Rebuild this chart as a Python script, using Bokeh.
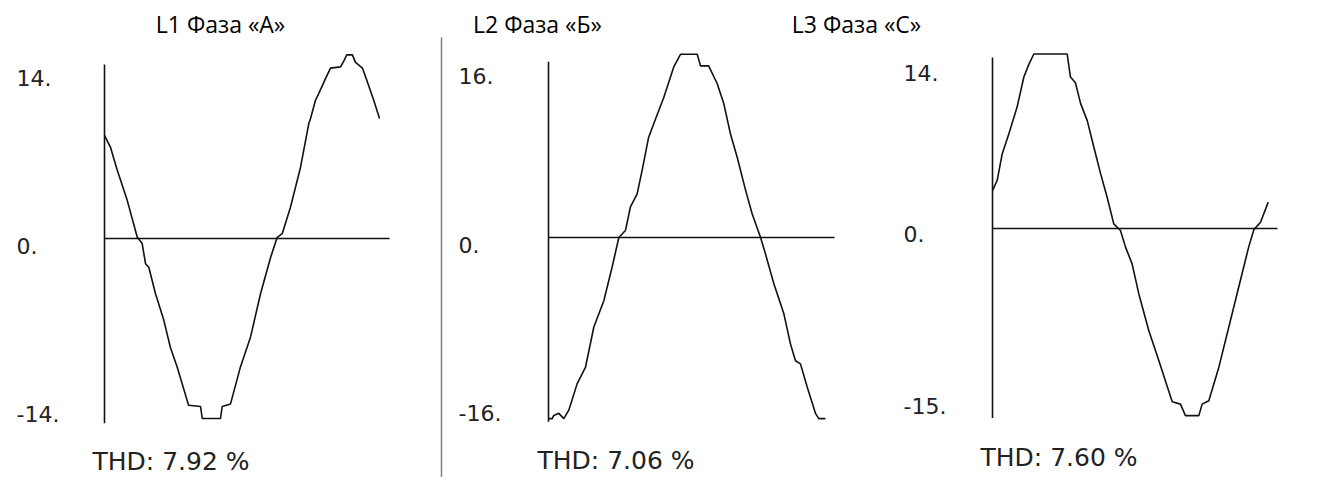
from bokeh.plotting import figure
from bokeh.models import Range1d, Label
from bokeh.core.properties import value
from bokeh.embed import file_html
from bokeh.resources import INLINE

# ---------------- data ----------------
titles = ["L1 Фаза «А»", "L2 Фаза «Б»", "L3 Фаза «С»"]
thd_texts = ["THD: 7.92 %", "THD: 7.06 %", "THD: 7.60 %"]

ticks_1 = [14, 0, -14]
tick_labels_1 = ["14.", "0.", "-14."]
ticks_2 = [16, 0, -16]
tick_labels_2 = ["16.", "0.", "-16."]
ticks_3 = [14, 0, -15]
tick_labels_3 = ["14.", "0.", "-15."]

sweep_ms = [0, 20]                 # time base of each trace (ms)
axis_extent_1 = [-15.4, 14.5]      # vertical axis extent (A)
axis_extent_2 = [-17.5, 16.7]
axis_extent_3 = [-16.5, 14.9]

t_1 = [0, 0.42, 0.89, 1.59, 2.3, 2.64, 2.88, 3.11, 3.58, 4.16, 4.63, 5.1, 5.9,
       6.74, 6.86, 8.14, 8.26, 8.84, 9.54, 10.25, 10.95, 11.65, 12.12, 12.47,
       13.05, 13.75, 14.34, 14.46, 14.8, 15.04, 15.5, 15.86, 16.56, 16.8, 17.0,
       17.4, 17.6, 18.1, 18.4, 18.9, 19.3]
i_1 = [8.6, 7.6, 5.7, 3.2, 0.1, -0.4, -2.1, -2.4, -4.6, -6.8, -9.1, -10.7, -13.9,
       -14.0, -15.0, -15.0, -14.0, -13.8, -10.7, -8.2, -4.6, -1.6, 0.1, 0.4,
       2.6, 5.9, 9.6, 10.0, 11.5, 12.1, 13.3, 14.2, 14.3, 14.8, 15.3,
       15.3, 14.7, 14.2, 13.2, 11.5, 10.0]

t_2 = [0.02, 0.26, 0.37, 0.72, 1.07, 1.42, 2.0, 2.59, 3.17, 3.87, 4.45, 4.92,
       5.38, 5.73, 6.2, 6.55, 7.0, 7.36, 8.06, 8.76, 9.23, 10.4, 10.63, 11.2,
       11.8, 12.26, 12.73, 13.2, 13.78, 14.24, 14.83, 15.17, 15.76, 16.46,
       16.92, 17.27, 17.62, 18.09, 18.67, 18.9, 19.37]
i_2 = [-17.2, -17.2, -16.9, -16.7, -17.2, -16.4, -13.9, -12.3, -8.5, -6.0, -2.8, 0.0,
       0.66, 2.9, 4.15, 6.4, 9.5, 10.8, 13.3, 16.2, 17.4, 17.4, 16.3, 16.3,
       14.6, 12.7, 9.8, 7.6, 4.5, 2.25, 0.0, -1.55, -4.4, -7.25,
       -10.1, -11.7, -12.0, -14.2, -16.7, -17.2, -17.2]

t_3 = [0, 0.33, 0.68, 1.15, 1.73, 2.2, 2.55, 2.9, 5.24, 5.47, 5.82, 6.18, 6.65,
       7.11, 7.58, 8.05, 8.51, 8.98, 9.33, 9.8, 10.27, 10.97, 11.67, 12.61,
       13.19, 13.54, 14.48, 14.71, 15.18, 15.88, 16.58, 17.28, 17.98, 18.34,
       18.81, 19.35]
i_3 = [3.3, 4.2, 6.5, 8.25, 10.6, 13.2, 14.3, 15.2, 15.2, 13.2, 12.7, 10.9, 9.4,
       7.1, 4.8, 2.7, 0.4, -0.17, -1.6, -3.1, -5.7, -8.9, -11.5, -15.1,
       -15.3, -16.3, -16.3, -15.3, -15.0, -12.1, -8.6, -5.1, -1.6, -0.1,
       0.55, 2.3]

# ---------------- layout (page pixels) ----------------
W, H, M = 1335, 477, 0
panels = [
    dict(ox=104, oy=238, sx=14.25, sy=12.0, tick_dx=-88, tick_dy=7,
         title_xy=(220, 23), thd_xy=(92, 461),
         t=t_1, i=i_1, ticks=ticks_1, labels=tick_labels_1, ext=axis_extent_1),
    dict(ox=548, oy=237, sx=14.3, sy=10.53, tick_dx=-90, tick_dy=7,
         title_xy=(537, 23), thd_xy=(537, 460),
         t=t_2, i=i_2, ticks=ticks_2, labels=tick_labels_2, ext=axis_extent_2),
    dict(ox=992, oy=228, sx=14.25, sy=11.48, tick_dx=-89, tick_dy=5,
         title_xy=(856, 23), thd_xy=(980, 457),
         t=t_3, i=i_3, ticks=ticks_3, labels=tick_labels_3, ext=axis_extent_3),
]

p = figure(width=W, height=H,
           x_range=Range1d(M, M + W), y_range=Range1d(M + H, M),
           x_axis_location=None, y_axis_location=None,
           toolbar_location=None, output_backend="svg",
           min_border=0, outline_line_color=None)
p.grid.visible = False
p.background_fill_color = "white"
p.border_fill_color = "white"

xr, yr = {}, {}
for k, pn in enumerate(panels):
    name = f"p{k}"
    xr[name] = Range1d((M - pn["ox"]) / pn["sx"], (M + W - pn["ox"]) / pn["sx"])
    yr[name] = Range1d((pn["oy"] - (M + H)) / pn["sy"], (pn["oy"] - M) / pn["sy"])
p.extra_x_ranges = xr
p.extra_y_ranges = yr

ink = "#111111"
txt = "#222222"

for k, pn in enumerate(panels):
    name = f"p{k}"
    kw = dict(x_range_name=name, y_range_name=name)
    # vertical axis
    p.segment(x0=[0], y0=[pn["ext"][0]], x1=[0], y1=[pn["ext"][1]],
              line_color=ink, line_width=1.6, **kw)
    # zero line
    p.segment(x0=[sweep_ms[0]], y0=[0], x1=[sweep_ms[1]], y1=[0],
              line_color=ink, line_width=1.5, **kw)
    # waveform
    p.line(pn["t"], pn["i"], line_color=ink, line_width=1.6, **kw)
    # tick labels
    p.text(x=[0] * len(pn["ticks"]), y=pn["ticks"], text=pn["labels"],
           x_offset=pn["tick_dx"], y_offset=pn["tick_dy"],
           text_align="left", text_baseline="middle",
           text_font=value("DejaVu Sans"), text_font_size="22px",
           text_color=txt, **kw)
    # title
    tx, ty = pn["title_xy"]
    p.add_layout(Label(x=tx, y=ty, text=titles[k], text_align="center",
                       text_baseline="middle", text_font="Open Sans",
                       text_font_size="23px", text_color="black"))
    # THD
    hx, hy = pn["thd_xy"]
    p.add_layout(Label(x=hx, y=hy, text=thd_texts[k], text_align="left",
                       text_baseline="middle", text_font="DejaVu Sans",
                       text_font_size="25px", text_color=txt))

# separator between first and second panel
p.segment(x0=[441], y0=[37], x1=[441], y1=[M + H], line_color="#808080", line_width=1.5)

open("out.html", "w").write(file_html(p, INLINE))
